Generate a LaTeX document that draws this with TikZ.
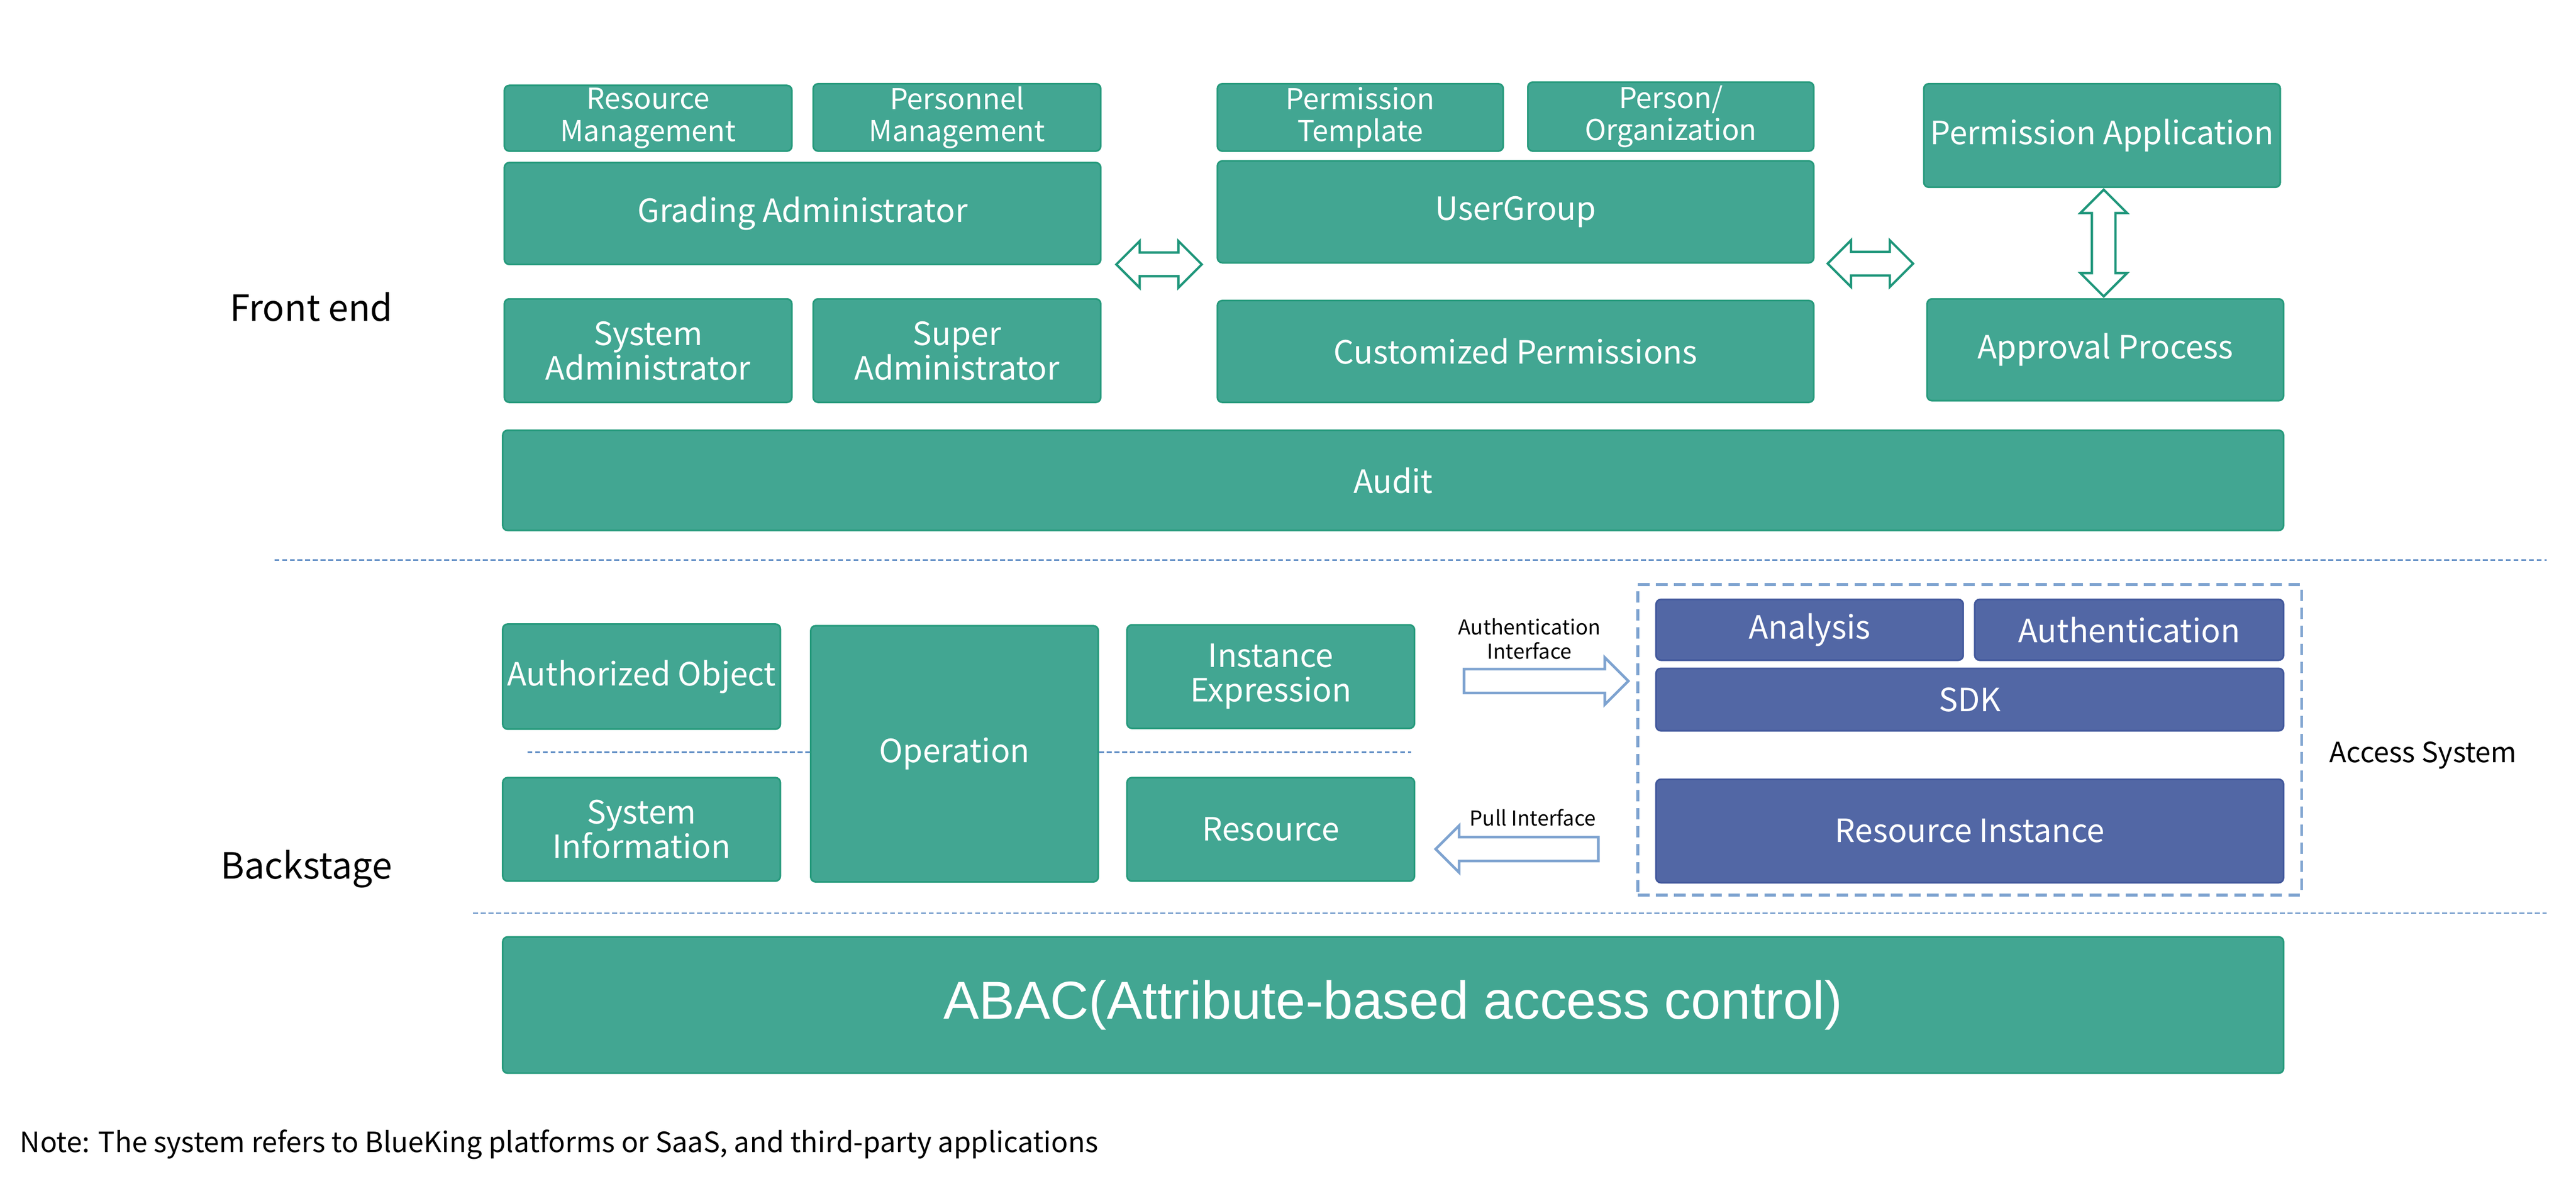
\documentclass[tikz,border=0pt]{standalone}
\usepackage{fontspec}
\setmainfont{Noto Sans CJK SC}
\newfontfamily\abacfont{Liberation Sans}
\usetikzlibrary{shapes.arrows,calc}

\definecolor{gfill}{RGB}{66,166,146}
\definecolor{gline}{RGB}{38,154,124}
\definecolor{bfill}{RGB}{82,103,165}
\definecolor{bline}{RGB}{66,88,156}
\definecolor{garrow}{RGB}{30,150,122}
\definecolor{barrow}{RGB}{126,163,208}
\definecolor{sepblue}{RGB}{88,136,194}

\tikzset{
  gbox/.style={draw=gline, fill=gfill, line width=1pt, rounded corners=3pt, text=white,
    align=center, inner sep=0pt, font=\fontsize{19.5}{21}\selectfont},
  sbox/.style={gbox, font=\fontsize{17.5}{19.5}\selectfont},
  bbox/.style={gbox, draw=bline, fill=bfill},
  dblarrow/.style={double arrow, draw=garrow, fill=white, line width=1.4pt, inner xsep=0pt,
    inner ysep=6.5pt, double arrow head extend=7pt, double arrow tip angle=90},
  onearrow/.style={single arrow, draw=barrow, fill=white, line width=1.6pt, inner xsep=0pt,
    inner ysep=6.5pt, single arrow head extend=7pt, single arrow tip angle=90},
  sep/.style={draw=sepblue, line width=0.9pt, dash pattern=on 3pt off 1.7pt},
  side/.style={font=\fontsize{22}{25}\selectfont},
}

\begin{document}
\begin{tikzpicture}[x=1pt, y=-1pt]
  \useasboundingbox (0,0) rectangle (1568,731);

  % front end
  \node[sbox, minimum width=175pt, minimum height=40pt] (resmgmt) at (394.5,72) {Resource\\Management};
  \node[sbox, minimum width=175pt, minimum height=41pt] (permgmt) at (582.5,71.5) {Personnel\\Management};
  \node[gbox, minimum width=363pt, minimum height=62pt] (grading) at (488.5,130) {Grading Administrator};
  \node[gbox, minimum width=175pt, minimum height=63pt] (sysadmin) at (394.5,213.5) {System\\Administrator};
  \node[gbox, minimum width=175pt, minimum height=63pt] (superadmin) at (582.5,213.5) {Super\\Administrator};

  \node[sbox, minimum width=174pt, minimum height=41pt] (permtpl) at (828,71.5) {Permission\\Template};
  \node[sbox, minimum width=174pt, minimum height=42pt] (personorg) at (1017,71) {Person/\\Organization};
  \node[gbox, minimum width=363pt, minimum height=62pt] (usergroup) at (922.5,129) {UserGroup};
  \node[gbox, minimum width=363pt, minimum height=62pt] (custperm) at (922.5,214) {Customized Permissions};

  \node[gbox, minimum width=217pt, minimum height=63pt] (permapp) at (1279.5,82.5) {Permission Application};
  \node[gbox, minimum width=217pt, minimum height=62pt] (approval) at (1281.5,213) {Approval Process};

  \node[gbox, minimum width=1084pt, minimum height=61pt] (audit) at (848,292.5) {Audit};

  \node[dblarrow, minimum height=52pt] (arrga) at ($(grading.south east)!0.5!(usergroup.south west)$) {};
  \node[dblarrow, minimum height=52pt] (arrug) at ($(usergroup.south east)!0.5!(approval.west |- usergroup.south)$) {};
  \node[dblarrow, minimum height=65pt, rotate=90] (arrpa) at ($(permapp.south)!0.5!(approval.north)$) {};

  \node[side] (front) at (189.5,187) {Front end};

  \draw[sep] (167,341) -- (1550,341);

  % backstage
  \node[gbox, minimum width=169pt, minimum height=64pt] (authobj) at (390.5,412) {Authorized Object};
  \node[gbox, minimum width=175pt, minimum height=156pt] (operation) at (581,459) {Operation};
  \node[gbox, minimum width=175pt, minimum height=63pt] (instexpr) at (773.5,412) {Instance\\Expression};
  \node[gbox, minimum width=169pt, minimum height=63pt] (sysinfo) at (390.5,505) {System\\Information};
  \node[gbox, minimum width=175pt, minimum height=63pt] (resource) at (773.5,505) {Resource};

  \coordinate (midL) at (321,458);
  \coordinate (midR) at (859,458);
  \draw[sep] (midL) -- (midL -| operation.west);
  \draw[sep] (operation.east |- midR) -- (midR);

  \node[draw=barrow, line width=1.8pt, dash pattern=on 7pt off 4pt, minimum width=404pt,
    minimum height=189pt, inner sep=0pt] (accessbox) at (1199,450.5) {};
  \node[bbox, minimum width=187pt, minimum height=37pt] (analysis) at (1101.5,383.5) {Analysis};
  \node[bbox, minimum width=188pt, minimum height=37pt] (authn) at (1296,383.5) {Authentication};
  \node[bbox, minimum width=382pt, minimum height=38pt] (sdk) at (1199,426) {SDK};
  \node[bbox, minimum width=382pt, minimum height=63pt] (resinst) at (1199,506) {Resource Instance};

  \node[onearrow, minimum height=100pt] (authif) at (937.5,414.7) {};
  \node[font=\fontsize{12.5}{15}\selectfont, align=center] (authiflabel) at (931,389) {Authentication\\Interface};
  \node[onearrow, minimum height=99pt, rotate=180] (pullif) at (927,517) {};
  \node[font=\fontsize{12.5}{15}\selectfont] (pulliflabel) at (933,498) {Pull Interface};

  \node[font=\fontsize{17}{20}\selectfont] (access) at (1475,460) {Access System};
  \node[side] (back) at (186.5,529) {Backstage};

  \draw[sep] (288,556) -- (1550,556);

  \node[gbox, minimum width=1084pt, minimum height=83pt, font=\abacfont\fontsize{32.5}{35}\selectfont] (abac) at (848,612) {ABAC(Attribute-based access control)};

  \node[anchor=west, font=\fontsize{17}{20}\selectfont, inner sep=0pt] (note) at (12,697) {Note: The system refers to BlueKing platforms or SaaS, and third-party applications};
\end{tikzpicture}
\end{document}
